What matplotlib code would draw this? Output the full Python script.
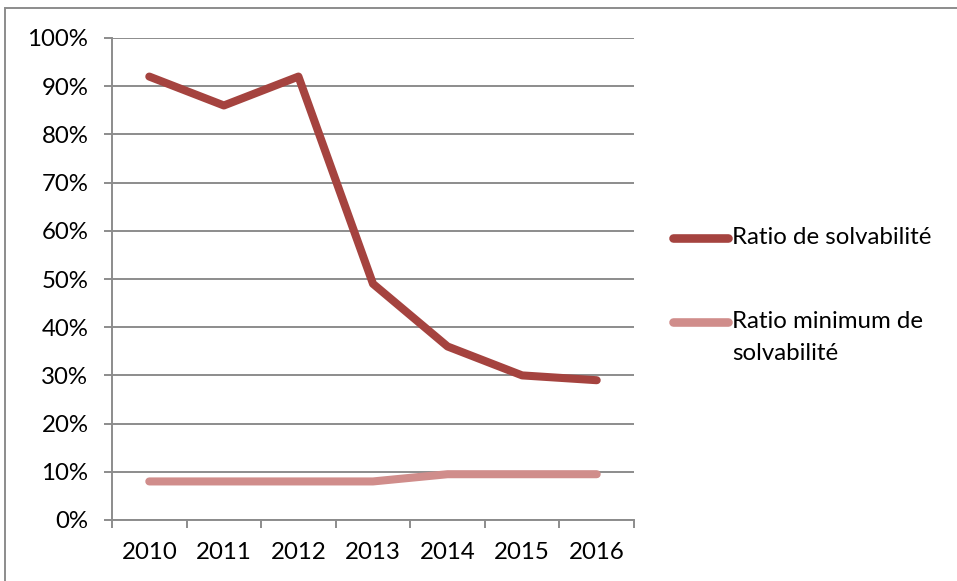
import matplotlib
matplotlib.use("Agg")
import matplotlib.pyplot as plt
from matplotlib.lines import Line2D
from matplotlib.patches import Rectangle
from matplotlib.ticker import FixedLocator, PercentFormatter

years = ["2010", "2011", "2012", "2013", "2014", "2015", "2016"]
ratio_solvabilite = [92, 86, 92, 49, 36, 30, 29]
ratio_minimum = [8, 8, 8, 8, 9.5, 9.5, 9.5]
labels = ["Ratio de solvabilité", "Ratio minimum de\nsolvabilité"]

dark_red = "#A5433F"
pink = "#D08D8B"
grid_grey = "#8C8C8C"
fs = 17.3

plt.rcParams["font.family"] = ["Lato", "DejaVu Sans"]

W, H = 957, 581
fig = plt.figure(figsize=(W / 100, H / 100), dpi=100)
ax = fig.add_axes([112 / W, 1 - 520 / H, (634 - 112) / W, (520 - 38) / H])

x = list(range(len(years)))
ax.plot(x, ratio_solvabilite, color=dark_red, lw=5.8, solid_capstyle="round",
        solid_joinstyle="round", zorder=3)
ax.plot(x, ratio_minimum, color=pink, lw=5.8, solid_capstyle="round",
        solid_joinstyle="round", zorder=3)

ax.set_xlim(-0.5, len(years) - 0.5)
ax.set_ylim(0, 100)
ax.set_yticks(range(0, 101, 10))
ax.yaxis.set_major_formatter(PercentFormatter(decimals=0))
ax.set_xticks(x)
ax.set_xticklabels(years)
ax.xaxis.set_minor_locator(FixedLocator([i - 0.5 for i in range(len(years) + 1)]))

ax.grid(axis="y", color=grid_grey, lw=1.4, zorder=0)
for s in ["top", "right"]:
    ax.spines[s].set_visible(False)
for s in ["left", "bottom"]:
    ax.spines[s].set_color(grid_grey)
    ax.spines[s].set_linewidth(1.4)

ax.tick_params(axis="x", which="major", length=0, pad=16, labelsize=fs)
ax.tick_params(axis="x", which="minor", length=6, width=1.4, color=grid_grey,
               direction="out")
ax.tick_params(axis="y", length=6, width=1.4, color=grid_grey, pad=11,
               labelsize=fs)

# legend drawn at the right of the plot
legend_rows = [(238, dark_red, labels[0]), (322, pink, labels[1])]
for ypx, col, txt in legend_rows:
    yf = 1 - ypx / H
    fig.add_artist(Line2D([673 / W, 728 / W], [yf, yf], transform=fig.transFigure,
                          color=col, lw=6.2, solid_capstyle="round"))
    lines = txt.split("\n")
    for i, part in enumerate(lines):
        fig.text(732 / W, 1 - (ypx + 31 * i) / H, part, ha="left", va="center",
                 fontsize=fs)

# outer chart frame
fig.add_artist(Rectangle((5 / W, -0.1), 2, 1 - 8 / H + 0.1, transform=fig.transFigure,
                         fill=False, edgecolor=grid_grey, lw=1.4))

fig.savefig("out.png", dpi=100)
